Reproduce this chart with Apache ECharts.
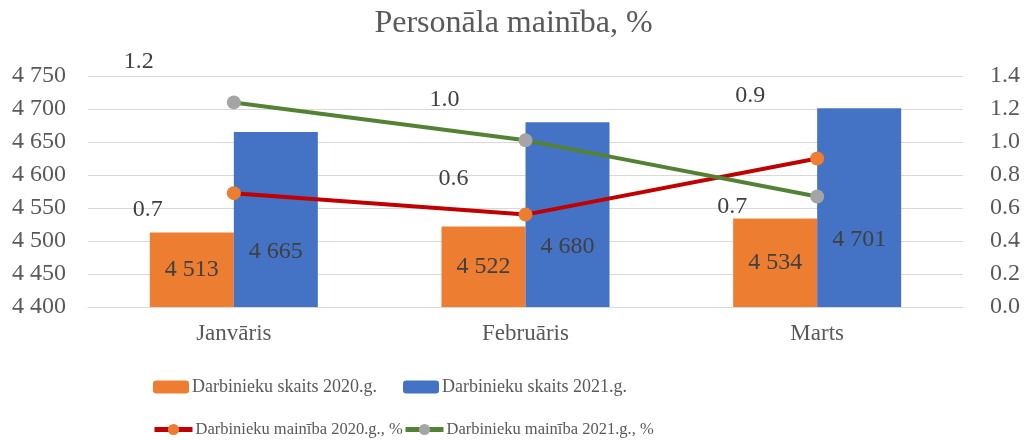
<!DOCTYPE html>
<html>
<head>
<meta charset="utf-8">
<script src="https://cdn.jsdelivr.net/npm/echarts@6/dist/echarts.min.js"></script>
<style>
  html, body { margin: 0; padding: 0; background: #fff; }
  #chart { width: 1027px; height: 440px; }
</style>
</head>
<body>
<div id="chart"></div>
<script>
// dati
const categories = ["Janvāris", "Februāris", "Marts"];
const skaits2020 = [4513, 4522, 4534];
const skaits2021 = [4665, 4680, 4701];
const mainiba2020 = [0.69, 0.56, 0.9];
const mainiba2021 = [1.24, 1.01, 0.67];

const seriesNames = [
  "Darbinieku skaits 2020.g.",
  "Darbinieku skaits 2021.g.",
  "Darbinieku mainība 2020.g., %",
  "Darbinieku mainība 2021.g., %"
];

// etiķešu nobīdes (manuāli novietotas kā oriģinālā)
const offs2020 = [[-86, 17], [-72, -36], [-67, -63]];
const offs2021 = [[-95, -41], [-81, -41], [-85, 10]];

(function () {
  let myChart = echarts.init(document.getElementById("chart"));
  const font = "'Liberation Serif', 'Times New Roman', serif";
  const textGrey = "#595959";
  const fmtThousand = function (v) {
    return String(v).replace(/\B(?=(\d{3})+(?!\d))/g, " ");
  };

  function lineData(vals, offs) {
    return vals.map(function (v, i) {
      return { value: v, label: { offset: offs[i] } };
    });
  }

  function legendAt(name, left, top, isLine) {
    let l = {
      data: [name],
      left: left,
      top: top,
      itemWidth: isLine ? 38 : 36,
      itemHeight: isLine ? 14 : 13,
      itemGap: 4,
      textStyle: { fontFamily: font, fontSize: isLine ? 16.5 : 18, color: textGrey, padding: [0, 0, 0, -2] }
    };
    if (isLine) l.lineStyle = { width: 5 };
    return l;
  }

  let option = {
    animation: false,
    textStyle: { fontFamily: font },
    title: {
      text: "Personāla mainība, %",
      left: "center",
      top: 3,
      textStyle: { fontFamily: font, fontSize: 32, fontWeight: "normal", color: textGrey }
    },
    legend: [
      legendAt(seriesNames[0], 148, 373, false),
      legendAt(seriesNames[1], 398, 373, false),
      legendAt(seriesNames[2], 147, 416, true),
      legendAt(seriesNames[3], 398, 416, true)
    ],
    grid: { left: 88, right: 64, top: 76, bottom: 133 },
    xAxis: {
      type: "category",
      data: categories,
      axisTick: { show: false },
      axisLine: { lineStyle: { color: "#d9d9d9", width: 1 } },
      axisLabel: { fontFamily: font, fontSize: 23, color: textGrey, margin: 15 }
    },
    yAxis: [
      {
        type: "value",
        min: 4400,
        max: 4750,
        interval: 50,
        axisLine: { show: false },
        axisTick: { show: false },
        splitLine: { lineStyle: { color: "#d9d9d9", width: 1 } },
        axisLabel: { fontFamily: font, fontSize: 24, color: textGrey, margin: 22, formatter: fmtThousand }
      },
      {
        type: "value",
        min: 0,
        max: 1.4,
        interval: 0.2,
        axisLine: { show: false },
        axisTick: { show: false },
        splitLine: { show: false },
        axisLabel: {
          fontFamily: font, fontSize: 24, color: textGrey, margin: 27,
          formatter: function (v) { return v.toFixed(1); }
        }
      }
    ],
    series: [
      {
        name: seriesNames[0],
        type: "bar",
        data: skaits2020,
        barWidth: 84,
        barGap: "0%",
        itemStyle: { color: "#ed7d31" },
        label: {
          show: true, position: "inside", fontFamily: font, fontSize: 24, color: "#404040",
          formatter: function (p) { return fmtThousand(p.value); }
        }
      },
      {
        name: seriesNames[1],
        type: "bar",
        data: skaits2021,
        barWidth: 84,
        barGap: "0%",
        itemStyle: { color: "#4472c4" },
        label: {
          show: true, position: "inside", offset: [0, 32], fontFamily: font, fontSize: 24, color: "#404040",
          formatter: function (p) { return fmtThousand(p.value); }
        }
      },
      {
        name: seriesNames[2],
        type: "line",
        yAxisIndex: 1,
        data: lineData(mainiba2020, offs2020),
        symbol: "circle",
        symbolSize: 14,
        lineStyle: { color: "#c00000", width: 4 },
        itemStyle: { color: "#ed7d31" },
        label: {
          show: true, position: "inside", fontFamily: font, fontSize: 24, color: "#404040",
          formatter: function (p) { return p.value.toFixed(1); }
        }
      },
      {
        name: seriesNames[3],
        type: "line",
        yAxisIndex: 1,
        data: lineData(mainiba2021, offs2021),
        symbol: "circle",
        symbolSize: 14,
        lineStyle: { color: "#548235", width: 4 },
        itemStyle: { color: "#a5a5a5" },
        label: {
          show: true, position: "inside", fontFamily: font, fontSize: 24, color: "#404040",
          formatter: function (p) { return p.value.toFixed(1); }
        }
      }
    ]
  };

  myChart.setOption(option);
  window.addEventListener("resize", function () {
    myChart.resize();
  });
})();
</script>
</body>
</html>
